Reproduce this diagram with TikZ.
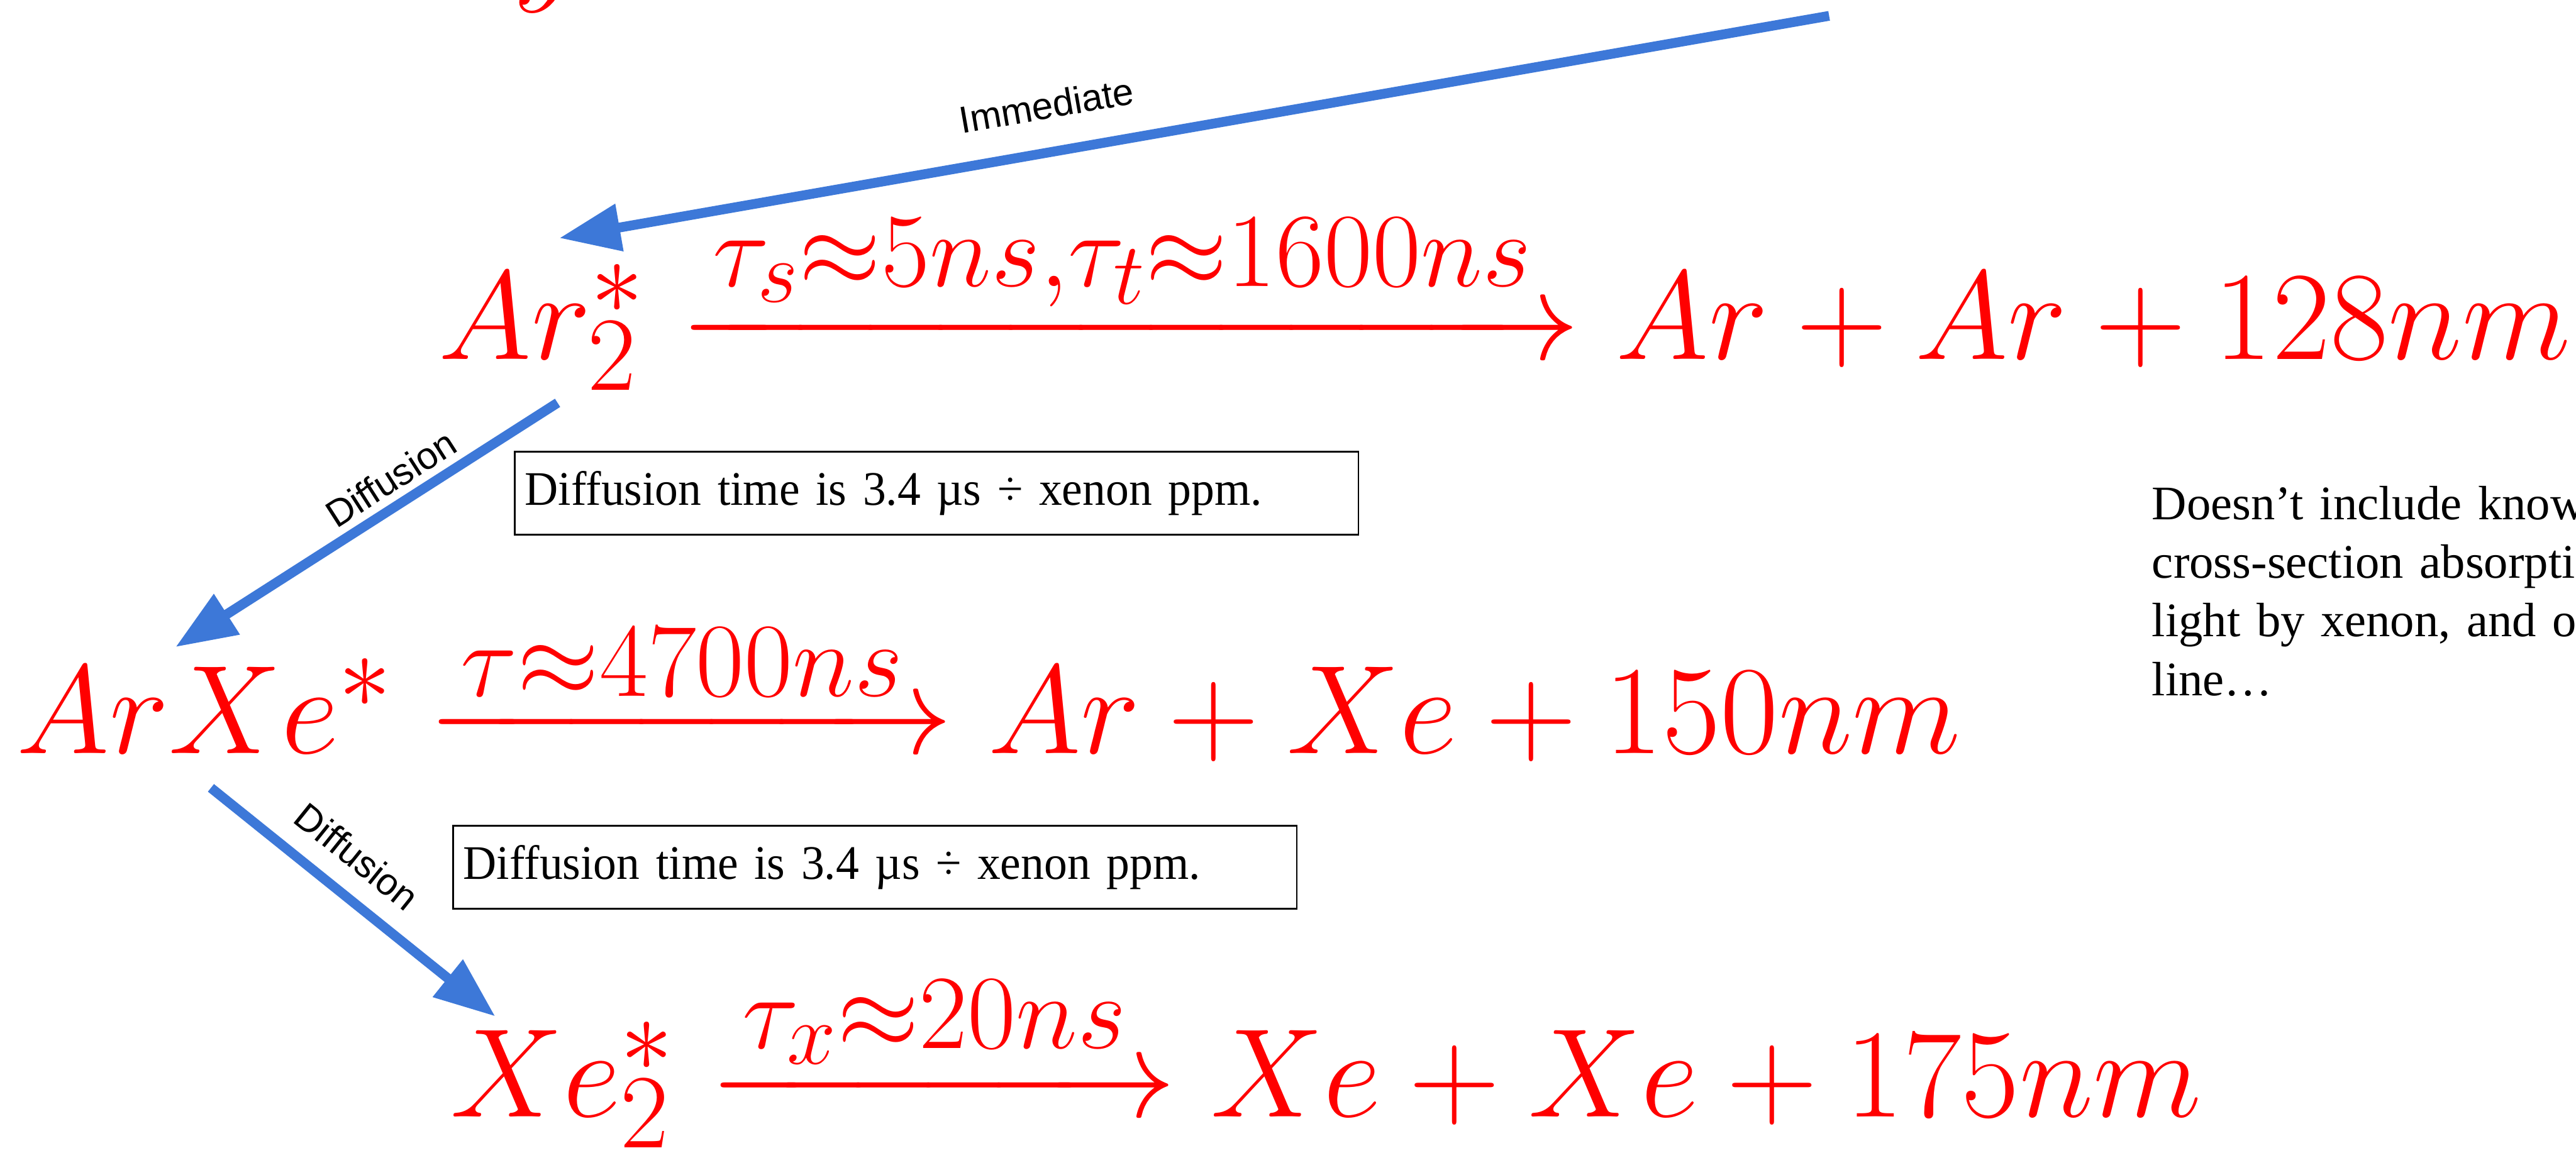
\RequirePackage{fix-cm}
\documentclass[tikz,border=0pt]{standalone}
\usepackage{amsmath}
\usepackage{fontspec}
\newfontfamily\arialfont{Liberation Sans}
\newfontfamily\timesfont{Liberation Serif}
\newfontfamily\boxfont[FakeStretch=0.96]{Liberation Serif}
\usetikzlibrary{arrows.meta}
\DeclareMathSizes{59}{59}{49.2}{41}
\definecolor{slideblue}{RGB}{61,120,216}
\newcommand{\eqsize}{\fontsize{59}{71}\selectfont}
\newcommand{\notesize}{\fontsize{22.5}{27.3}\selectfont}
\begin{document}
\begin{tikzpicture}[
    eqn/.style={red, inner sep=0, anchor=base west, font=\eqsize},
    hop/.style={slideblue, line width=0.16cm, -{Triangle[length=1cm,width=0.75cm]}},
    hoplabel/.style={sloped, above, text=black, inner xsep=0, font=\arialfont\fontsize{17.6}{21}\selectfont},
    notebox/.style={draw, line width=0.8pt, text width=13.5cm, minimum height=1.36cm,
        inner xsep=0.17cm, align=left, font=\boxfont\notesize}
]
    \useasboundingbox (0,0) rectangle (42.25,-19);

    % tail of the line above, cut by the page
    \node[eqn] (prev) at (8.42,0.2) {$y$};

    % Ar2* decay
    \node[eqn] (ar2) at (7.19,-5.89) {$Ar_2^*$};
    \node[eqn] (ar2out) at (ar2.base east)
        {${}\xrightarrow{\tau_s\approx5ns,\tau_t\approx1600ns}Ar+Ar+128nm$};

    % ArXe* decay
    \node[eqn] (arxe) at (0.27,-12.36) {$ArXe^*$};
    \node[eqn] (arxeout) at (arxe.base east)
        {${}\xrightarrow{\tau\approx4700ns}Ar+Xe+150nm$};

    % Xe2* decay
    \node[eqn] (xe2) at (7.38,-18.32) {$Xe_2^*$};
    \node[eqn] (xe2out) at (xe2.base east)
        {${}\xrightarrow{\tau_x\approx20ns}Xe+Xe+175nm$};

    % Diffusion notes
    \node[notebox] (note1) at (15.36,-8.09) {Diffusion time is 3.4 µs ÷ xenon ppm.};
    \node[notebox] (note2) at (14.35,-14.23) {Diffusion time is 3.4 µs ÷ xenon ppm.};

    % Remark on the right, runs off the page
    \node[anchor=base west, inner sep=0, text width=12cm, align=left, font=\timesfont\notesize]
        (remark) at (35.29,-8.53)
        {Doesn’t include known\\cross-section absorption\\light by xenon, and ob\\line…};

    % Transfer arrows
    \coordinate (immstart) at (30.0,-0.26);
    \draw[hop] (immstart) -- ([shift={(0.29,0.42)}]ar2.north)
        node[hoplabel, pos=0.61, inner ysep=0.46cm] {Immediate};
    \draw[hop] ([shift={(0.26,-0.2)}]ar2.south) -- ([shift={(-0.48,0.18)}]arxe.north)
        node[hoplabel, pos=0.40, inner ysep=0.12cm] {Diffusion};
    \draw[hop] ([shift={(0.1,-0.56)}]arxe.south) -- ([shift={(-1.1,0.08)}]xe2.north)
        node[hoplabel, pos=0.43, inner ysep=0.32cm] {Diffusion};
\end{tikzpicture}
\end{document}
